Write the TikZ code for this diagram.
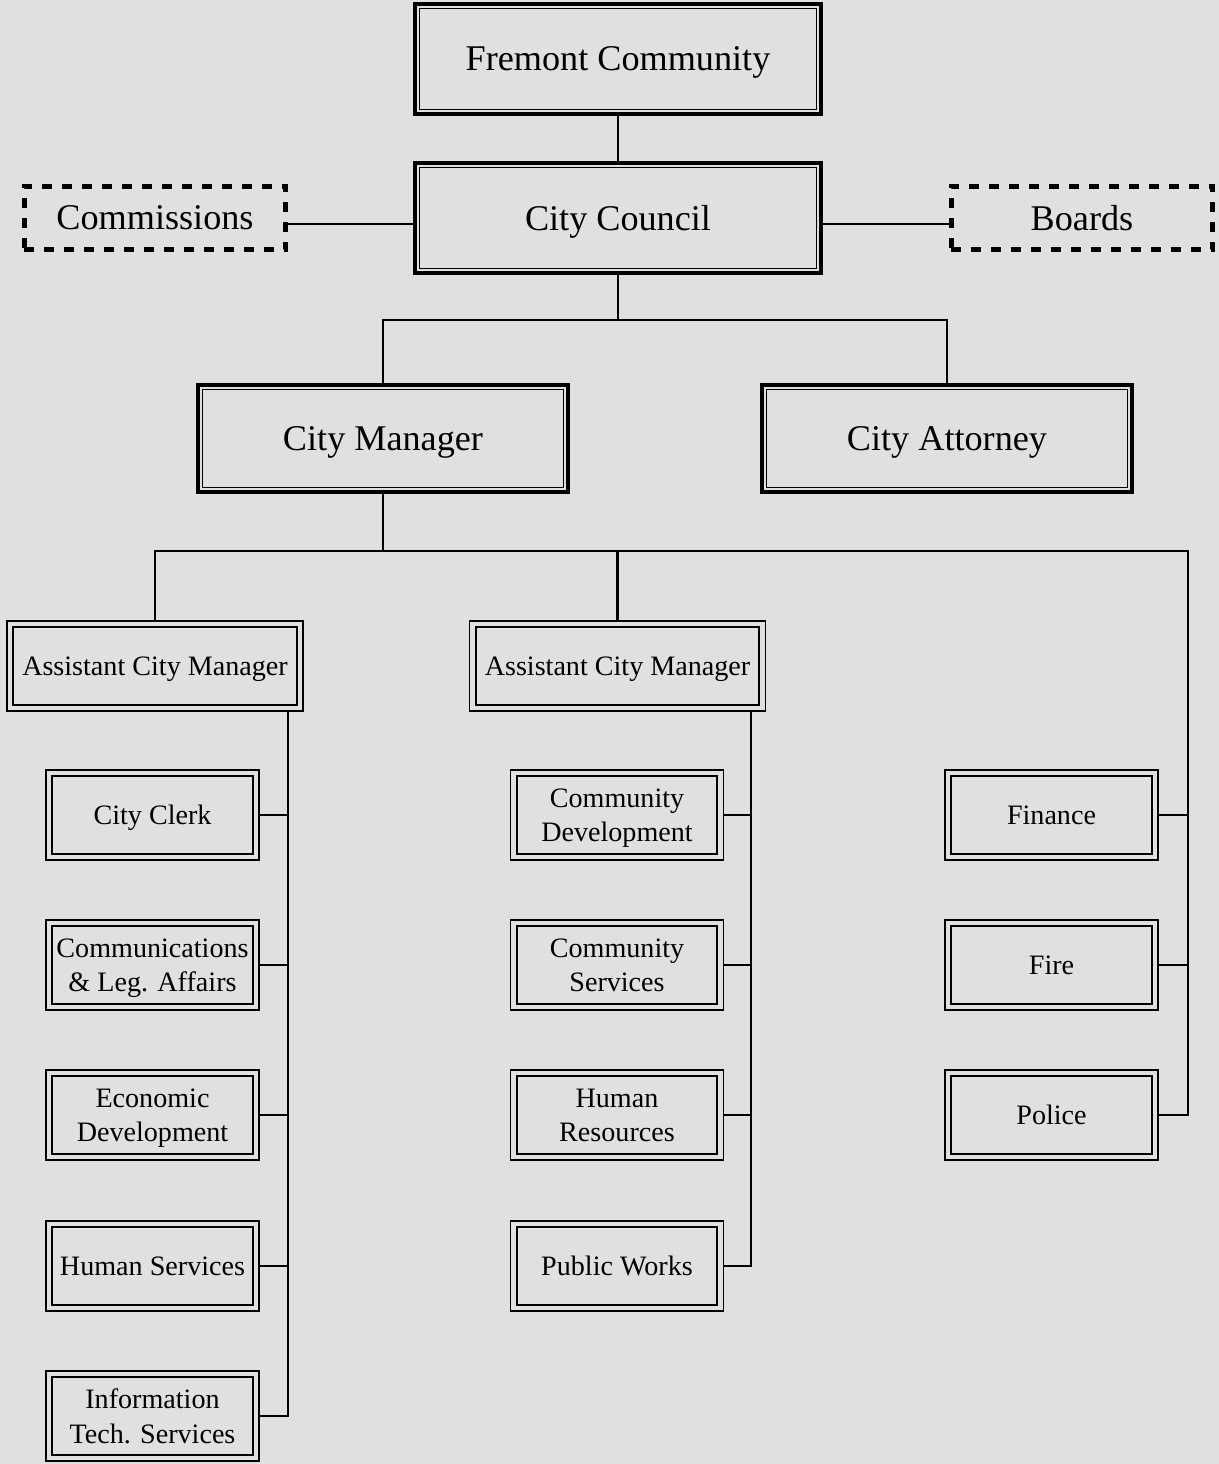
\documentclass[tikz,border=0pt]{standalone}
\usepackage{fontspec}
\setmainfont{Liberation Serif}
\definecolor{pagebg}{RGB}{224,224,224}
\tikzset{
  bigbox/.style={draw, line width=0.08cm, minimum width=8.12cm, minimum height=2.2cm,
    text depth=0pt, font=\fontsize{20.6}{24}\selectfont,
    path picture={\draw[line width=0.025cm] ([shift={(0.09cm,0.09cm)}]path picture bounding box.south west) rectangle ([shift={(-0.09cm,-0.09cm)}]path picture bounding box.north east);}},
  dashbox/.style={draw, line width=0.1cm, dash pattern=on 0.2cm off 0.2cm,
    minimum width=5.24cm, minimum height=1.28cm, text depth=0pt, font=\fontsize{20.6}{24}\selectfont},
  smallbox/.style={draw, line width=0.035cm, minimum width=4.26cm, minimum height=1.8cm,
    inner sep=1pt, align=center, text depth=0pt, font=\fontsize{16}{19.5}\selectfont,
    path picture={\draw[line width=0.04cm] ([shift={(0.12cm,0.12cm)}]path picture bounding box.south west) rectangle ([shift={(-0.12cm,-0.12cm)}]path picture bounding box.north east);}},
  link/.style={line width=0.055cm}
}
\begin{document}
\begin{tikzpicture}[x=0.02cm, y=-0.02cm]
	\path[use as bounding box, fill=pagebg] (0,0) rectangle (1219,1464);
	\node[bigbox] (fc) at (618,59) {Fremont Community};
	\node[bigbox] (cc) at (618,218) {City Council};
	\node[dashbox] (com) at (155,218) {Commissions};
	\node[dashbox] (brd) at (1082,218) {Boards};
	\node[bigbox, minimum width=7.4cm, minimum height=2.14cm] (cm) at (383,438.5) {City Manager};
	\node[bigbox, minimum width=7.4cm, minimum height=2.14cm] (ca) at (947,438.5) {City Attorney};
	\node[smallbox, minimum width=5.92cm] (acma) at (155,666) {Assistant City Manager};
	\node[smallbox, minimum width=5.92cm] (acmb) at (617.5,666) {Assistant City Manager};
	\node[smallbox] (clk) at (152.5,815) {City Clerk};
	\node[smallbox] (cla) at (152.5,965) {Communications\\\& Leg. Affairs};
	\node[smallbox] (eco) at (152.5,1115) {Economic\\Development};
	\node[smallbox] (hs) at (152.5,1266) {Human Services};
	\node[smallbox] (its) at (152.5,1416) {Information\\Tech. Services};
	\node[smallbox] (cd) at (617,815) {Community\\Development};
	\node[smallbox] (cs) at (617,965) {Community\\Services};
	\node[smallbox] (hr) at (617,1115) {Human\\Resources};
	\node[smallbox] (pw) at (617,1266) {Public Works};
	\node[smallbox] (fin) at (1051.5,815) {Finance};
	\node[smallbox] (fire) at (1051.5,965) {Fire};
	\node[smallbox] (pol) at (1051.5,1115) {Police};
	\coordinate (top) at (618,320);
	\coordinate (rs) at (1188,551);
	\coordinate (ls) at (288,712);
	\coordinate (ms) at (751,712);
	\draw[link] (fc) -- (cc);
	\draw[link] ([yshift=-0.12cm]cc.west) -- ([yshift=-0.12cm]cc.west -| com.east);
	\draw[link] ([yshift=-0.12cm]cc.east) -- ([yshift=-0.12cm]cc.east -| brd.west);
	\draw[link] (cc.south) -- (top);
	\draw[link] (cm.north) |- (top) -| (ca.north);
	\draw[link] (cm.south) -- (cm.south |- rs);
	\draw[link] (acma.north) |- (rs) |- (pol.east);
	\draw[link] (acmb.north) -- (acmb.north |- rs);
	\draw[link] (ls) |- (its.east);
	\draw[link] (ms) |- (pw.east);
	\foreach \n in {clk,cla,eco,hs}
		\draw[link] (\n.east) -- (\n.east -| ls);
	\foreach \n in {cd,cs,hr}
		\draw[link] (\n.east) -- (\n.east -| ms);
	\foreach \n in {fin,fire}
		\draw[link] (\n.east) -- (\n.east -| rs);
\end{tikzpicture}
\end{document}
